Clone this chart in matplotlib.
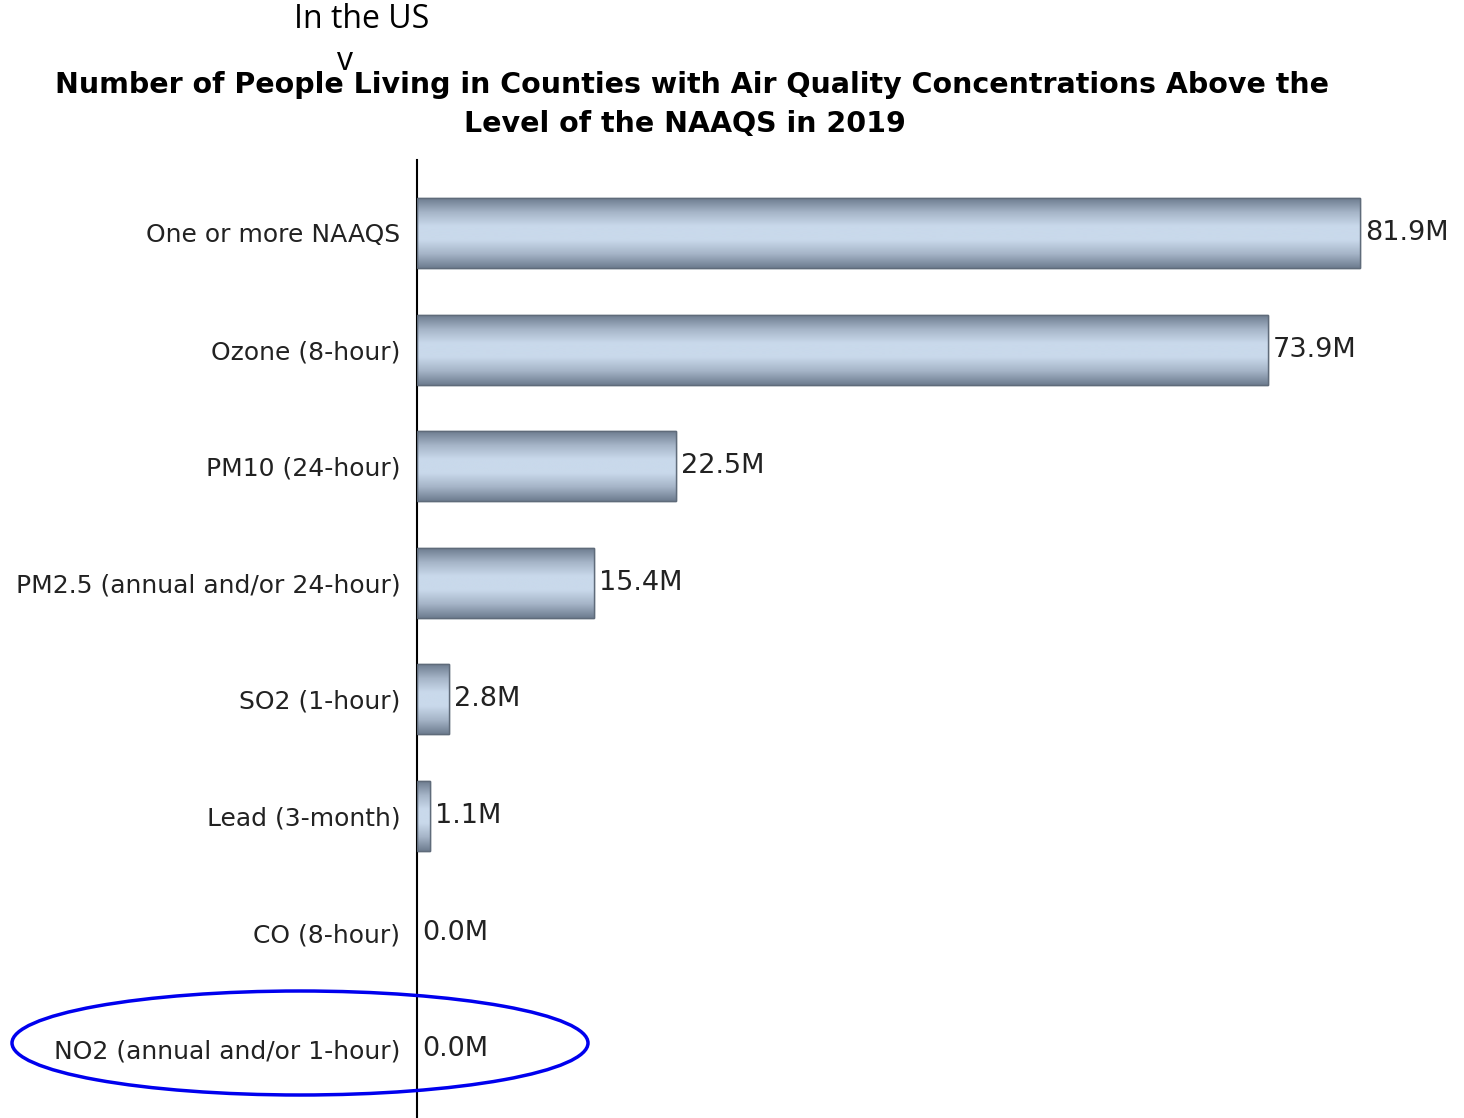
import numpy as np
import matplotlib
matplotlib.use("Agg")
import matplotlib.pyplot as plt
from matplotlib.patches import Ellipse
from matplotlib.colors import LinearSegmentedColormap

categories = ["One or more NAAQS", "Ozone (8-hour)", "PM10 (24-hour)",
              "PM2.5 (annual and/or 24-hour)", "SO2 (1-hour)", "Lead (3-month)",
              "CO (8-hour)", "NO2 (annual and/or 1-hour)"]
values = [81.9, 73.9, 22.5, 15.4, 2.8, 1.1, 0.0, 0.0]
value_labels = ["81.9M", "73.9M", "22.5M", "15.4M", "2.8M", "1.1M", "0.0M", "0.0M"]

W, H = 1464, 1118
fig = plt.figure(figsize=(W / 100, H / 100), dpi=100)
ax_left, ax_top, ax_bottom = 417, 160, 1118
ax = fig.add_axes([ax_left / W, 0, (W - ax_left) / W, (ax_bottom - ax_top) / H])

px_per_unit = (1360 - 417) / 81.9
ax.set_xlim(0, (W - ax_left) / px_per_unit)
ax.set_ylim(7.59, -0.626)

y = np.arange(len(categories))
bars = ax.barh(y, values, height=0.6, color="#b8c8dc", edgecolor="#5f6b7a", linewidth=1.0, zorder=2)

cmap = LinearSegmentedColormap.from_list("g", ["#6d7c8f", "#a5b4c7", "#c9d9eb", "#c9d9eb", "#a5b4c7", "#6d7c8f"])
grad = np.linspace(0, 1, 256).reshape(-1, 1)
for b in bars:
    if b.get_width() <= 0:
        b.set_visible(False)
        continue
    x0, y0, w, h = b.get_x(), b.get_y(), b.get_width(), b.get_height()
    im = ax.imshow(grad, cmap=cmap, extent=(x0, x0 + w, y0 + h, y0), aspect="auto", zorder=2.5, interpolation="bilinear")
    im.set_clip_path(b)
    ax.add_patch(plt.Rectangle((x0, y0), w, h, fill=False, edgecolor="#5f6b7a", linewidth=1.0, zorder=3))

for yi, v, lab in zip(y, values, value_labels):
    ax.annotate(lab, (v, yi), xytext=(3.5, 0), textcoords="offset points", va="center", ha="left",
                fontsize=19.5, color="#222222", family="DejaVu Sans")

ax.set_yticks(y)
ax.set_yticklabels(categories, fontsize=18, color="#222222", family="DejaVu Sans")
ax.tick_params(axis="y", length=0, pad=12)
ax.set_xticks([])
for s in ["top", "right", "bottom"]:
    ax.spines[s].set_visible(False)
ax.spines["left"].set_linewidth(1.5)
ax.spines["left"].set_color("black")
ax.set_autoscale_on(False)

fig.text(692 / W, 1 - 85 / H, "Number of People Living in Counties with Air Quality Concentrations Above the",
         ha="center", va="center", fontsize=20.5, fontweight="bold", family="DejaVu Sans")
fig.text(685 / W, 1 - 124 / H, "Level of the NAAQS in 2019",
         ha="center", va="center", fontsize=20.5, fontweight="bold", family="DejaVu Sans")
fig.text(362 / W, 1 - 20 / H, "In the US", ha="center", va="center", fontsize=23, family="Open Sans")
fig.text(345 / W, 1 - 62 / H, "v", ha="center", va="center", fontsize=23, family="Open Sans")

ell = Ellipse((300 / W, 1 - 1043 / H), 576 / W, 104 / H, transform=fig.transFigure,
              fill=False, edgecolor="#0000ee", linewidth=2.5)
fig.add_artist(ell)

fig.savefig("out.png", dpi=100)
